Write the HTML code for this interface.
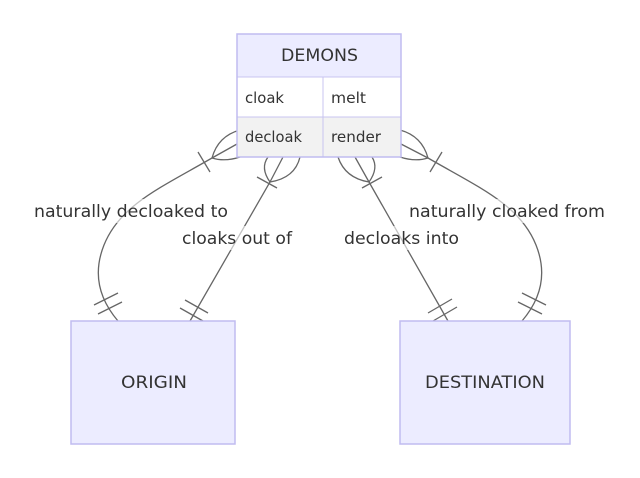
<!DOCTYPE html>
<html><head><meta charset="utf-8"><style>
html,body{margin:0;padding:0;background:#fff;width:640px;height:478px;overflow:hidden}
text{font-family:"DejaVu Sans","Liberation Sans",sans-serif;fill:#333}
</style></head><body>
<svg width="640" height="478" viewBox="0 0 640 478" xmlns="http://www.w3.org/2000/svg">
<g fill="none" stroke="#666" stroke-width="1.3">
<path d="M237,144 L212,158 C160,188 120,205 104,245 C92,275 100,300 118,321"/>
<path d="M212,158 Q218,136 240,130 M212,158 Q225,162 240,157"/>
<line x1="198" y1="152" x2="210" y2="172"/>
<line x1="94" y1="305" x2="118" y2="293"/>
<line x1="98" y1="314" x2="122" y2="302"/>
<path d="M283,157 L270,182 L190,321"/>
<path d="M270,182 Q260,168 268,157 M270,182 Q295,178 300,157"/>
<line x1="257" y1="177" x2="277" y2="188"/>
<line x1="185" y1="300" x2="208" y2="313"/>
<line x1="180" y1="308" x2="203" y2="321"/>
<path d="M355,157 L369,182 L448,321"/>
<path d="M369,182 Q345,178 338,157 M369,182 Q379,168 372,157"/>
<line x1="362" y1="188" x2="382" y2="177"/>
<line x1="428" y1="313" x2="452" y2="299"/>
<line x1="433" y1="321" x2="457" y2="307"/>
<path d="M401,144 L428,158 C480,188 520,205 536,245 C548,275 540,300 522,321"/>
<path d="M428,158 Q422,136 400,130 M428,158 Q415,162 400,157"/>
<line x1="442" y1="152" x2="430" y2="172"/>
<line x1="546" y1="305" x2="522" y2="293"/>
<line x1="542" y1="314" x2="518" y2="302"/>
</g>
<rect x="237" y="34" width="164" height="43" fill="#ececff" stroke="#9370db" stroke-opacity="0.6"/>
<rect x="237" y="77" width="86" height="40" fill="#fff" stroke="#c8c4f0"/>
<rect x="323" y="77" width="78" height="40" fill="#fff" stroke="#c8c4f0"/>
<rect x="237" y="117" width="86" height="40" fill="#f2f2f2" stroke="#c8c4f0"/>
<rect x="323" y="117" width="78" height="40" fill="#f2f2f2" stroke="#c8c4f0"/>
<rect x="237" y="34" width="164" height="123" fill="none" stroke="#c0bcf0" stroke-width="1.5"/>
<text x="281" y="61" font-size="17" textLength="77" lengthAdjust="spacingAndGlyphs">DEMONS</text>
<text x="245" y="103" font-size="15" textLength="39" lengthAdjust="spacingAndGlyphs">cloak</text>
<text x="331" y="103" font-size="15" textLength="35" lengthAdjust="spacingAndGlyphs">melt</text>
<text x="245" y="142" font-size="15" textLength="57" lengthAdjust="spacingAndGlyphs">decloak</text>
<text x="331" y="142" font-size="15" textLength="50" lengthAdjust="spacingAndGlyphs">render</text>
<rect x="71" y="321" width="164" height="123" fill="#ececff" stroke="#c0bcf0" stroke-width="1.5"/>
<text x="121" y="388" font-size="17" textLength="66" lengthAdjust="spacingAndGlyphs">ORIGIN</text>
<rect x="400" y="321" width="170" height="123" fill="#ececff" stroke="#c0bcf0" stroke-width="1.5"/>
<text x="425" y="388" font-size="17" textLength="120" lengthAdjust="spacingAndGlyphs">DESTINATION</text>
<rect x="34" y="199" width="194" height="24" fill="#fff" opacity="0.6"/>
<text x="34" y="217" font-size="17" textLength="194" lengthAdjust="spacingAndGlyphs">naturally decloaked to</text>
<rect x="182" y="226" width="110" height="24" fill="#fff" opacity="0.6"/>
<text x="182" y="244" font-size="17" textLength="110" lengthAdjust="spacingAndGlyphs">cloaks out of</text>
<rect x="344" y="226" width="115" height="24" fill="#fff" opacity="0.6"/>
<text x="344" y="244" font-size="17" textLength="115" lengthAdjust="spacingAndGlyphs">decloaks into</text>
<rect x="409" y="199" width="197" height="24" fill="#fff" opacity="0.6"/>
<text x="409" y="217" font-size="17" textLength="196" lengthAdjust="spacingAndGlyphs">naturally cloaked from</text>
</svg>
</body></html>
